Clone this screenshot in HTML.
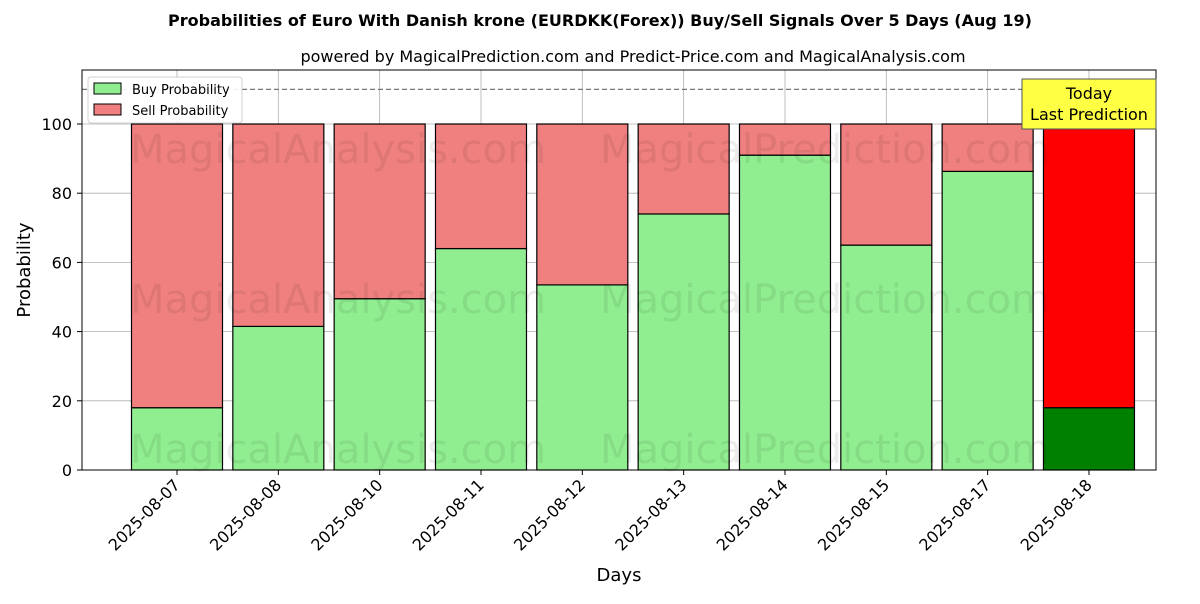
<!DOCTYPE html>
<html><head><meta charset="utf-8"><style>
body{margin:0;background:#fff;font-family:"DejaVu Sans","Liberation Sans",sans-serif}
svg text{font-family:"DejaVu Sans","Liberation Sans",sans-serif}
</style></head><body>
<svg id="c" width="1200" height="600" xmlns="http://www.w3.org/2000/svg">
<text x="600" y="26" text-anchor="middle" font-size="16" font-weight="bold">Probabilities of Euro With Danish krone (EURDKK(Forex)) Buy/Sell Signals Over 5 Days (Aug 19)</text>
<text x="633" y="62" text-anchor="middle" font-size="16">powered by MagicalPrediction.com and Predict-Price.com and MagicalAnalysis.com</text>
<g id="grid"></g><g id="bars"></g><g id="wm" fill="#000" opacity="0.07" font-size="40">
<text x="130" y="163">MagicalAnalysis.com</text>
<text x="600" y="163">MagicalPrediction.com</text>
<text x="130" y="313">MagicalAnalysis.com</text>
<text x="600" y="313">MagicalPrediction.com</text>
<text x="130" y="463">MagicalAnalysis.com</text>
<text x="600" y="463">MagicalPrediction.com</text>
</g>
<line x1="82" x2="1156" y1="89.4" y2="89.4" stroke="#777" stroke-dasharray="5,3" stroke-width="1.2"/>
<rect x="82" y="70" width="1074" height="400" fill="none" stroke="#000" stroke-width="1"/>
<g id="ticks"></g>
<text x="30" y="270" font-size="18" text-anchor="middle" transform="rotate(-90 30 270)">Probability</text>
<text x="619" y="581" font-size="18" text-anchor="middle">Days</text>
<g>
<rect x="88" y="77" width="154" height="46" fill="#fff" stroke="#ccc" rx="3" opacity="0.9"/>
<rect x="94" y="83" width="27" height="11" fill="#90ee90" stroke="#000"/>
<text x="132" y="94" font-size="13">Buy Probability</text>
<rect x="94" y="104" width="27" height="11" fill="#f08080" stroke="#000"/>
<text x="132" y="115" font-size="13">Sell Probability</text>
</g>
<g>
<rect x="1022" y="79" width="134" height="50" fill="#ffff44" stroke="#555"/>
<text x="1089" y="99" font-size="16" text-anchor="middle">Today</text>
<text x="1089" y="120" font-size="16" text-anchor="middle">Last Prediction</text>
</g>
</svg>
<script>
const categories=["2025-08-07","2025-08-08","2025-08-10","2025-08-11","2025-08-12","2025-08-13","2025-08-14","2025-08-15","2025-08-17","2025-08-18"];
const buyValues=[18,41.5,49.5,64,53.5,74,91,65,86.3,18];
const sellValues=[82,58.5,50.5,36,46.5,26,9,35,13.7,82];
const yTicks=[0,20,40,60,80,100];
const NS="http://www.w3.org/2000/svg";
const y=v=>470-v*3.46;
const x=i=>177+i*101.33;
const bw=91;
function mk(t,a,p){const e=document.createElementNS(NS,t);for(const k in a)e.setAttribute(k,a[k]);p.appendChild(e);return e;}
const G=document.getElementById('grid'),B=document.getElementById('bars'),T=document.getElementById('ticks');
yTicks.forEach(v=>{
 const l=mk('line',{x1:82,x2:1156,y1:y(v),y2:y(v),stroke:'#b0b0b0','stroke-width':0.8},G);
 
 
 mk('line',{x1:77,x2:82,y1:y(v),y2:y(v),stroke:'#000'},T);
 const t=mk('text',{x:72,y:y(v)+6,'font-size':16,'text-anchor':'end'},T);t.textContent=v;
 
 
});
categories.forEach((c,i)=>{
 const cx=x(i),last=i===categories.length-1;
 const l=mk('line',{x1:cx,x2:cx,y1:70,y2:470,stroke:'#b0b0b0','stroke-width':0.8},G);
 
 
 const b=mk('rect',{x:cx-bw/2,y:y(buyValues[i]),width:bw,height:buyValues[i]*3.46,fill:last?'#008000':'#90ee90',stroke:'#000','stroke-width':1.2},B);
 
 
 const s=mk('rect',{x:cx-bw/2,y:y(buyValues[i]+sellValues[i]),width:bw,height:sellValues[i]*3.46,fill:last?'#ff0000':'#f08080',stroke:'#000','stroke-width':1.2},B);
 
 
 mk('line',{x1:cx,x2:cx,y1:470,y2:475,stroke:'#000'},T);
 const t=mk('text',{x:cx+4,y:486,'font-size':16,'text-anchor':'end',transform:`rotate(-45 ${cx+4} 486)`},T);t.textContent=c;
 
 
});
</script>
</body></html>
